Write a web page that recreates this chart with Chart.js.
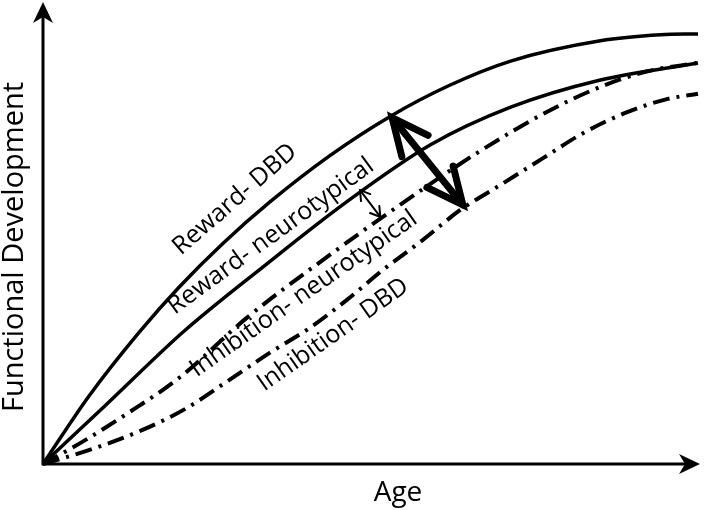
<!DOCTYPE html>
<html>
<head>
<meta charset="utf-8">
<script src="https://cdn.jsdelivr.net/npm/chart.js@4.4.0/dist/chart.umd.min.js"></script>
<style>
  html, body { margin: 0; padding: 0; background: #fff; }
  #wrap { width: 708px; height: 510px; }
</style>
</head>
<body>
<div id="wrap"><canvas id="chart" width="708" height="510"></canvas></div>
<script>
// Age = % of the horizontal axis, development = % of the vertical axis
const rewardDbdAge = [0, 7, 14.7, 20.8, 27.5, 34.6, 43.8, 53, 62, 71.4, 85.1, 94.3, 100];
const rewardDbdDev = [0, 14.7, 28.6, 38.4, 47.9, 56.8, 66.9, 75.4, 82.1, 87.4, 91.8, 93.1, 93.3];

const rewardNtAge = [0, 9.6, 21.6, 33.8, 46.1, 59.1, 71.4, 85.1, 100];
const rewardNtDev = [0, 12.8, 28.9, 43, 56.6, 69.2, 77.4, 83.3, 87];

const inhibNtAge = [0, 6, 12.7, 20.8, 31.1, 42.3, 54.5, 66.3, 77.5, 85.1, 92.3, 100];
const inhibNtDev = [0, 4.8, 10.8, 18.7, 31.7, 43.8, 56.2, 67.5, 76.8, 81.8, 85.2, 87];

const inhibDbdAge = [0, 7, 15.2, 21.9, 28, 34.6, 40.7, 46.4, 51.9, 58, 63.7, 69.8, 76.4, 82.5, 89.3, 95.4, 100];
const inhibDbdDev = [0, 3, 7.4, 12.1, 17.8, 24.1, 29.5, 35.6, 42.1, 48.6, 55.1, 60.5, 66.4, 71.8, 76.4, 79.2, 80.3];

// gaps marked with double arrows: [age, dev] at each end
const dbdGap = [[53.3, 75.1], [64.1, 56.2]];
const ntGap = [[48.4, 59.4], [51.5, 53.6]];

const curveLabels = [
  { text: 'Reward- DBD', age: 29.3, dev: 57.4, angle: -41 },
  { text: 'Reward- neurotypical', age: 34.8, dev: 49.4, angle: -36 },
  { text: 'Inhibition- neurotypical', age: 39.8, dev: 36.9, angle: -35 },
  { text: 'Inhibition- DBD', age: 44.3, dev: 28.0, angle: -35 }
];

const FONT = "'Open Sans', 'DejaVu Sans', sans-serif";

const toPoints = (xs, ys) => xs.map((v, i) => ({ x: v, y: ys[i] }));

const solid = (label, xs, ys) => ({
  label,
  data: toPoints(xs, ys),
  borderColor: '#000',
  borderWidth: 3.5,
  pointRadius: 0,
  cubicInterpolationMode: 'monotone',
  clip: false
});

const dashDot = (label, xs, ys) => ({
  label,
  data: toPoints(xs, ys),
  borderColor: '#000',
  borderWidth: 4,
  borderDash: [17, 7, 3, 7],
  pointRadius: 0,
  cubicInterpolationMode: 'monotone',
  clip: false
});

// filled notched head for the axes
function axisHead(ctx, tx, ty, dx, dy) {
  const len = 21, half = 10, notch = 6;
  const px = -dy, py = dx;
  ctx.beginPath();
  ctx.moveTo(tx, ty);
  ctx.lineTo(tx - dx * len + px * half, ty - dy * len + py * half);
  ctx.lineTo(tx - dx * (len - notch), ty - dy * (len - notch));
  ctx.lineTo(tx - dx * len - px * half, ty - dy * len - py * half);
  ctx.closePath();
  ctx.fill();
}

// double arrow with open V heads
function doubleArrow(ctx, x1, y1, x2, y2, width, headLen, headAng) {
  ctx.save();
  ctx.lineWidth = width;
  ctx.lineCap = 'round';
  ctx.lineJoin = 'miter';
  ctx.beginPath();
  ctx.moveTo(x1, y1);
  ctx.lineTo(x2, y2);
  ctx.stroke();
  const a = Math.atan2(y2 - y1, x2 - x1);
  const heads = [[x1, y1, a], [x2, y2, a + Math.PI]];
  heads.forEach(([tx, ty, dir]) => {
    const r = headAng * Math.PI / 180;
    ctx.beginPath();
    ctx.moveTo(tx + Math.cos(dir + r) * headLen, ty + Math.sin(dir + r) * headLen);
    ctx.lineTo(tx, ty);
    ctx.lineTo(tx + Math.cos(dir - r) * headLen, ty + Math.sin(dir - r) * headLen);
    ctx.stroke();
  });
  ctx.restore();
}

const overlay = {
  id: 'overlay',
  afterDatasetsDraw(chart) {
    const { ctx, chartArea: area, scales: { x, y } } = chart;
    const ox = x.getPixelForValue(0);
    const oy = y.getPixelForValue(0);

    ctx.save();
    ctx.fillStyle = '#000';
    ctx.strokeStyle = '#000';

    // axes
    ctx.lineWidth = 3;
    ctx.beginPath();
    ctx.moveTo(ox, oy + 1.5);
    ctx.lineTo(ox, area.top + 12);
    ctx.moveTo(ox - 1.5, oy);
    ctx.lineTo(area.right - 10, oy);
    ctx.stroke();
    axisHead(ctx, ox, area.top - 1, 0, -1);
    axisHead(ctx, area.right + 2, oy, 1, 0);

    // gap arrows
    doubleArrow(ctx,
      x.getPixelForValue(dbdGap[0][0]), y.getPixelForValue(dbdGap[0][1]),
      x.getPixelForValue(dbdGap[1][0]), y.getPixelForValue(dbdGap[1][1]),
      7, 40, 25);
    doubleArrow(ctx,
      x.getPixelForValue(ntGap[0][0]), y.getPixelForValue(ntGap[0][1]),
      x.getPixelForValue(ntGap[1][0]), y.getPixelForValue(ntGap[1][1]),
      2, 11, 32);

    // curve labels
    ctx.textAlign = 'center';
    ctx.textBaseline = 'middle';
    ctx.font = '25px ' + FONT;
    curveLabels.forEach(l => {
      ctx.save();
      ctx.translate(x.getPixelForValue(l.age), y.getPixelForValue(l.dev));
      ctx.rotate(l.angle * Math.PI / 180);
      ctx.fillText(l.text, 0, 0);
      ctx.restore();
    });

    // axis titles
    ctx.font = '28px ' + FONT;
    ctx.fillText('Age', 398, 493);
    ctx.font = '29px ' + FONT;
    ctx.save();
    ctx.translate(15, 247);
    ctx.rotate(-Math.PI / 2);
    ctx.fillText('Functional Development', 0, 0);
    ctx.restore();

    ctx.restore();
  }
};

new Chart(document.getElementById('chart'), {
  type: 'line',
  data: {
    datasets: [
      solid('Reward- DBD', rewardDbdAge, rewardDbdDev),
      solid('Reward- neurotypical', rewardNtAge, rewardNtDev),
      dashDot('Inhibition- neurotypical', inhibNtAge, inhibNtDev),
      dashDot('Inhibition- DBD', inhibDbdAge, inhibDbdDev)
    ]
  },
  options: {
    responsive: false,
    animation: false,
    layout: { padding: { left: 43, right: 10, top: 3, bottom: 46 } },
    plugins: {
      legend: { display: false },
      tooltip: { enabled: false }
    },
    scales: {
      x: { type: 'linear', min: 0, max: 100, display: false },
      y: { type: 'linear', min: 0, max: 100, display: false }
    }
  },
  plugins: [overlay]
});
</script>
</body>
</html>
